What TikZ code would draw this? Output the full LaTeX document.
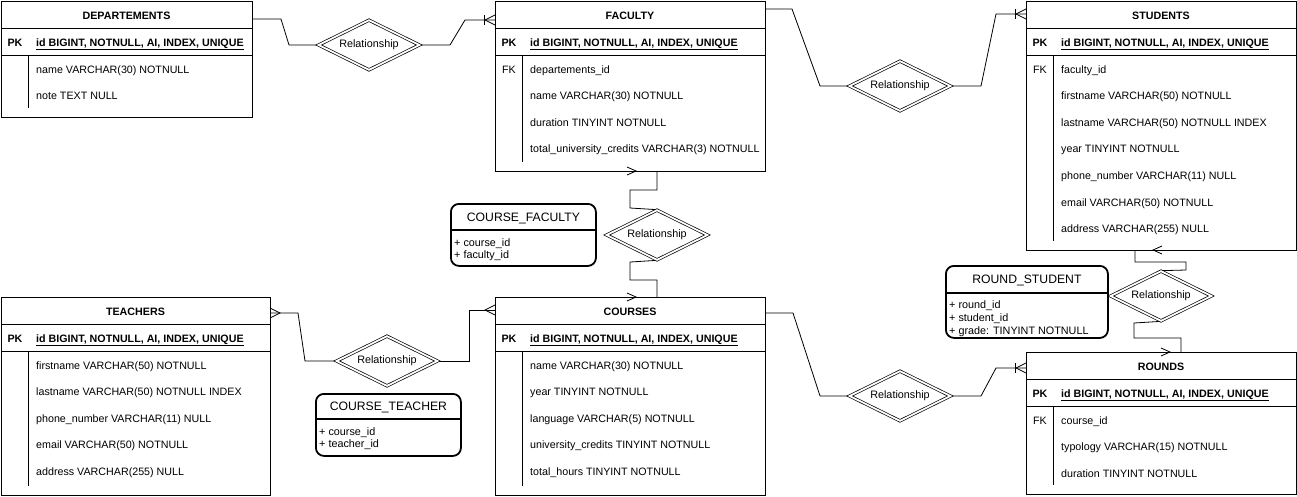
\documentclass[tikz,border=0pt]{standalone}
\usepackage{fontspec}
\setmainfont{Liberation Sans}
\usetikzlibrary{shapes.geometric,backgrounds}

\tikzset{
  tbl/.style={draw, line width=0.9pt, anchor=north west, inner sep=0pt, outer sep=0pt, fill=white},
  ln/.style={line width=0.9pt},
  conn/.style={line width=0.8pt},
  txt/.style={anchor=west, inner sep=0pt, text height=8pt, text depth=0pt, font=\fontsize{10.7}{13}\selectfont},
  keytxt/.style={inner sep=0pt, text height=8pt, text depth=0pt, font=\fontsize{10.7}{13}\selectfont},
  ttl/.style={inner sep=0pt, text height=8pt, text depth=0pt, font=\fontsize{10.7}{13}\selectfont\bfseries},
  rel/.style={diamond, draw, double, double distance=1.8pt, line width=0.7pt, fill=white,
    minimum width=101pt, minimum height=50pt, inner sep=0pt, aspect=2,
    font=\fontsize{10.8}{13}\selectfont},
  rbox/.style={draw, line width=1.8pt, rounded corners=8pt, anchor=north west, inner sep=0pt, fill=white},
  rtitle/.style={inner sep=0pt, text height=9pt, text depth=0pt, font=\fontsize{12.2}{14}\selectfont},
  ritem/.style={anchor=west, inner sep=0pt, text height=8pt, text depth=0pt, font=\fontsize{10.8}{13}\selectfont},
}

% table: name, x, y, w, h, title
\newcommand\ertable[6]{%
  \node[tbl, minimum width=#4pt, minimum height=#5pt] (#1) at (#2,#3) {};
  \path (#1.north) ++(0,14) node[ttl] (#1t) {#6};
  \draw[ln] (#1.north west) ++(0,27) -- ++(#4,0);
  \draw[ln] (#1.north west) ++(0,54) -- ++(#4,0);
  \path (#1.north west) ++(14,41) node[ttl] (#1pk) {PK};
  \path (#1.north west) ++(35,41) node[txt] (#1id) {\textbf{\underline{id BIGINT, NOTNULL, AI, INDEX, UNIQUE}}};
  \draw[ln] (#1.north west) ++(27,54) -- ++(0,#5-63);
}
% row: table name, index, key, text
\newcommand\errow[4]{%
  \path (#1.north west) ++(14,{68+26.6*#2}) node[keytxt] (#1k#2) {#3};
  \path (#1.north west) ++(35,{68+26.6*#2}) node[txt] (#1r#2) {#4};
}
% crow's foot at a table edge, tip pointing left (-1) or right (+1)
\newcommand\crow[2]{%
  \draw[conn] (#1) ++(0,-5) -- ++(#2*10,5) -- ++(-#2*10,5);
}
\newcommand\crowbar[2]{%
  \draw[conn] (#1) ++(0,-5) -- ++(#2*10,5) -- ++(-#2*10,5);
  \draw[conn] (#1) ++(#2*11,-5) -- ++(0,10);
}
% horizontal chevron lying on a horizontal border
\newcommand\chev[2]{%
  \draw[conn] (#1) ++(0,-4) -- ++(#2*9,4) -- ++(-#2*9,4);
}

\begin{document}
\begin{tikzpicture}[x=1pt,y=-1pt]
\useasboundingbox (0,0) rectangle (1297,496);

% ---------------- tables ----------------
\ertable{dep}{1}{1}{251}{116}{DEPARTEMENTS}
\errow{dep}{0}{}{name VARCHAR(30) NOTNULL}
\errow{dep}{1}{}{note TEXT NULL}

\ertable{fac}{495}{1}{270}{170}{FACULTY}
\errow{fac}{0}{FK}{departements\_id}
\errow{fac}{1}{}{name VARCHAR(30) NOTNULL}
\errow{fac}{2}{}{duration TINYINT NOTNULL}
\errow{fac}{3}{}{total\_university\_credits VARCHAR(3) NOTNULL}

\ertable{stu}{1026}{1}{270}{249}{STUDENTS}
\errow{stu}{0}{FK}{faculty\_id}
\errow{stu}{1}{}{firstname VARCHAR(50) NOTNULL}
\errow{stu}{2}{}{lastname VARCHAR(50) NOTNULL INDEX}
\errow{stu}{3}{}{year TINYINT NOTNULL}
\errow{stu}{4}{}{phone\_number VARCHAR(11) NULL}
\errow{stu}{5}{}{email VARCHAR(50) NOTNULL}
\errow{stu}{6}{}{address VARCHAR(255) NULL}

\ertable{tea}{1}{297}{269}{198}{TEACHERS}
\errow{tea}{0}{}{firstname VARCHAR(50) NOTNULL}
\errow{tea}{1}{}{lastname VARCHAR(50) NOTNULL INDEX}
\errow{tea}{2}{}{phone\_number VARCHAR(11) NULL}
\errow{tea}{3}{}{email VARCHAR(50) NOTNULL}
\errow{tea}{4}{}{address VARCHAR(255) NULL}

\ertable{cou}{495}{297}{270}{198}{COURSES}
\errow{cou}{0}{}{name VARCHAR(30) NOTNULL}
\errow{cou}{1}{}{year TINYINT NOTNULL}
\errow{cou}{2}{}{language VARCHAR(5) NOTNULL}
\errow{cou}{3}{}{university\_credits TINYINT NOTNULL}
\errow{cou}{4}{}{total\_hours TINYINT NOTNULL}

\ertable{rou}{1026}{352}{270}{142}{ROUNDS}
\errow{rou}{0}{FK}{course\_id}
\errow{rou}{1}{}{typology VARCHAR(15) NOTNULL}
\errow{rou}{2}{}{duration TINYINT NOTNULL}

% ---------------- relationships ----------------
\node[rel] (r1) at (369,45) {Relationship};
\node[rel] (r2) at (900,86) {Relationship};
\node[rel] (r3) at (657,235) {Relationship};
\node[rel] (r4) at (1161,296) {Relationship};
\node[rel] (r5) at (387,361) {Relationship};
\node[rel] (r6) at (900,396) {Relationship};

% ---------------- association boxes ----------------
\node[rbox, minimum width=145pt, minimum height=62pt] (cf) at (450,203) {};
\path (cf.north) ++(0,14) node[rtitle] (cft) {COURSE\_FACULTY};
\draw[line width=1.8pt] (cf.north west) ++(0,27) -- ++(145,0);
\path (cf.north west) ++(4,39) node[ritem] (cf1) {+ course\_id};
\path (cf.north west) ++(4,51.5) node[ritem] (cf2) {+ faculty\_id};

\node[rbox, minimum width=145pt, minimum height=62pt] (ct) at (315,393) {};
\path (ct.north) ++(0,13) node[rtitle] (ctt) {COURSE\_TEACHER};
\draw[line width=1.8pt] (ct.north west) ++(0,26) -- ++(145,0);
\path (ct.north west) ++(4,38) node[ritem] (ct1) {+ course\_id};
\path (ct.north west) ++(4,50.5) node[ritem] (ct2) {+ teacher\_id};

\node[rbox, minimum width=162pt, minimum height=72pt] (rs) at (945,265) {};
\path (rs.north) ++(0,14) node[rtitle] (rst) {ROUND\_STUDENT};
\draw[line width=1.8pt] (rs.north west) ++(0,28) -- ++(162,0);
\path (rs.north west) ++(4,39) node[ritem] (rs1) {+ round\_id};
\path (rs.north west) ++(4,52) node[ritem] (rs2) {+ student\_id};
\path (rs.north west) ++(4,65) node[ritem] (rs3) {+ grade: TINYINT NOTNULL};

% ---------------- edge points ----------------
\coordinate (depE) at (252,19);
\coordinate (facW) at (495,20);
\coordinate (facE) at (765,9);
\coordinate (stuW) at (1026,14);
\coordinate (facS) at (657,171);
\coordinate (couN) at (657,297);
\coordinate (stuS) at (1135,250);
\coordinate (rouN) at (1181,352);
\coordinate (teaE) at (270,313);
\coordinate (couW) at (495,310);
\coordinate (couE) at (765,313);
\coordinate (rouW) at (1026,368);

% ---------------- connectors ----------------
\begin{scope}[on background layer]
\draw[conn] (depE) -- (281,19) -- (289,45) -- (r1.west);
\draw[conn] (r1.east) -- (450,45) -- (465,20) -- (facW);
\draw[conn] (facE) -- (792,9) -- (820,86) -- (r2.west);
\draw[conn] (r2.east) -- (981,86) -- (996,14) -- (stuW);
\draw[conn] (facS) -- (657,190) -- (630,190) -- (630,208) -- (r3.north);
\draw[conn] (r3.south) -- (630,262) -- (630,280) -- (657,280) -- (couN);
\draw[conn] (stuS) -- (1135,262) -- (1186,262) -- (1186,270) -- (r4.north);
\draw[conn] (r4.south) -- (1134,323) -- (1134,338) -- (1181,338) -- (rouN);
\draw[conn] (teaE) -- (298,313) -- (305,361) -- (r5.west);
\draw[conn] (r5.east) -- (469,361) -- (469,310) -- (couW);
\draw[conn] (couE) -- (793,313) -- (820,396) -- (r6.west);
\draw[conn] (r6.east) -- (981,396) -- (996,368) -- (rouW);
\end{scope}

% ---------------- end marks ----------------
\crowbar{facW}{-1}
\crowbar{stuW}{-1}
\crowbar{rouW}{-1}
\crow{teaE}{1}
\crow{couW}{-1}
\coordinate (m1) at (627,171);
\chev{m1}{1}
\coordinate (m2) at (627,297);
\chev{m2}{1}
\coordinate (m3) at (1162,250);
\chev{m3}{-1}
\coordinate (m4) at (1161,352);
\chev{m4}{1}

\end{tikzpicture}
\end{document}
